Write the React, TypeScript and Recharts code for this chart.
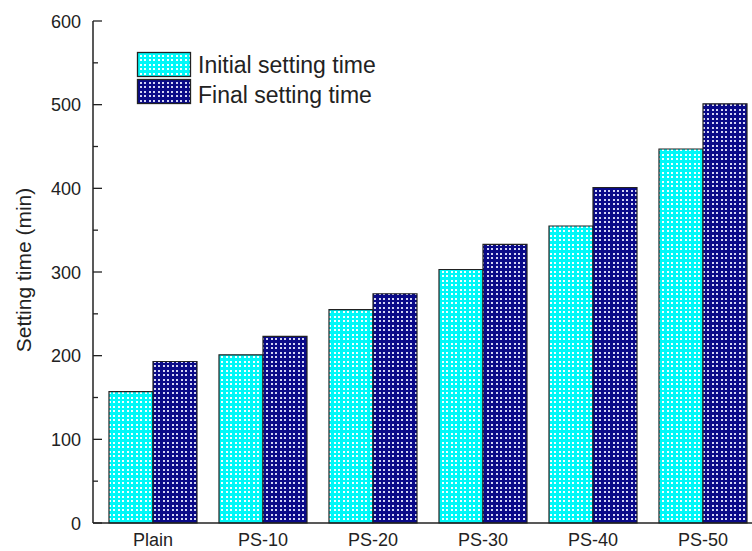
import React from "react";
import { BarChart, Bar, XAxis, YAxis } from "recharts";

const categories = ["Plain", "PS-10", "PS-20", "PS-30", "PS-40", "PS-50"];
const initialTime = [157, 201, 255, 303, 355, 447];
const finalTime = [193, 223, 274, 333, 401, 501];
const yTicks = [0, 50, 100, 150, 200, 250, 300, 350, 400, 450, 500, 550, 600];

const FONT = "'Liberation Sans', Arial, Helvetica, sans-serif";

const data = categories.map((name, i) => ({
  name,
  initial: initialTime[i],
  final: finalTime[i],
}));

// dotted fills, 9px tile with 4 dots (~4.5px pitch)
function DotPattern({ id, base, dot }: { id: string; base: string; dot: string }) {
  const pos = [
    [1, 1],
    [5, 1],
    [1, 5],
    [5, 5],
  ];
  return (
    <pattern id={id} patternUnits="userSpaceOnUse" width={9} height={9}>
      <rect width={9} height={9} fill={base} />
      {pos.map(([x, y]) => (
        <rect key={`${x}-${y}`} x={x} y={y} width={2} height={2} fill={dot} />
      ))}
    </pattern>
  );
}

function Patterns() {
  return (
    <svg width={0} height={0} style={{ position: "absolute" }}>
      <defs>
        <DotPattern id="dotCyan" base="#00f8f8" dot="#f4ffff" />
        <DotPattern id="dotNavy" base="#0a0a88" dot="#d4d4f4" />
      </defs>
    </svg>
  );
}

function YTick(props: any) {
  const { x, y, payload } = props;
  const major = payload.value % 100 === 0;
  return (
    <g>
      <line x1={x} x2={x + (major ? 9 : 5)} y1={y} y2={y} stroke="#222" strokeWidth={1.3} />
      {major && (
        <text x={x - 12} y={y + 6.5} textAnchor="end" fontSize={18} fontFamily={FONT} fill="#222">
          {payload.value}
        </text>
      )}
    </g>
  );
}

function XTick(props: any) {
  const { x, y, payload } = props;
  return (
    <text x={x} y={y + 23} textAnchor="middle" fontSize={18} fontFamily={FONT} fill="#222">
      {payload.value}
    </text>
  );
}

function TopTick(props: any) {
  const { x, y } = props;
  return <line x1={x} x2={x} y1={y} y2={y + 5} stroke="#222" strokeWidth={1.3} />;
}

function Legend() {
  const rows = [
    { label: "Initial setting time", fill: "url(#dotCyan)" },
    { label: "Final setting time", fill: "url(#dotNavy)" },
  ];
  return (
    <svg width={300} height={70} style={{ position: "absolute", left: 130, top: 45 }}>
      {rows.map((r, i) => (
        <g key={r.label}>
          <rect x={7.5} y={7.5 + i * 27} width={53} height={24} fill={r.fill} stroke="#222" strokeWidth={1.3} />
          <text x={68} y={28 + i * 30} fontSize={23} fontFamily={FONT} fill="#222">
            {r.label}
          </text>
        </g>
      ))}
    </svg>
  );
}

export default function App() {
  return (
    <div
      style={{
        position: "fixed",
        left: 0,
        top: 0,
        width: 752,
        height: 551,
        overflow: "hidden",
        background: "#fff",
      }}
    >
      <Patterns />
      <BarChart
        width={773}
        height={551}
        data={data}
        margin={{ top: 21, right: 10, bottom: 0, left: 0 }}
        barGap={0}
        barSize={44}
      >
        <XAxis
          dataKey="name"
          height={28}
          padding={{ left: 5, right: 5 }}
          tickLine={false}
          tickSize={0}
          tickMargin={0}
          axisLine={{ stroke: "#222", strokeWidth: 1.5 }}
          tick={<XTick />}
          interval={0}
        />
        <XAxis
          xAxisId="top"
          dataKey="name"
          orientation="top"
          height={0}
          padding={{ left: 5, right: 5 }}
          tickLine={false}
          tickSize={0}
          tickMargin={0}
          axisLine={{ stroke: "#222", strokeWidth: 1.5 }}
          tick={<TopTick />}
          interval={0}
        />
        <YAxis
          width={93}
          domain={[0, 600]}
          ticks={yTicks}
          interval={0}
          tickLine={false}
          tickSize={0}
          tickMargin={0}
          axisLine={{ stroke: "#222", strokeWidth: 1.5 }}
          tick={<YTick />}
          label={() => (
            <text
              transform="rotate(-90)"
              x={-270}
              y={31}
              textAnchor="middle"
              fontSize={21}
              fontFamily={FONT}
              fill="#222"
            >
              Setting time (min)
            </text>
          )}
        />
        <Bar dataKey="initial" fill="url(#dotCyan)" stroke="#222" strokeWidth={1.2} isAnimationActive={false} />
        <Bar dataKey="final" fill="url(#dotNavy)" stroke="#222" strokeWidth={1.2} isAnimationActive={false} />
      </BarChart>
      <Legend />
    </div>
  );
}
